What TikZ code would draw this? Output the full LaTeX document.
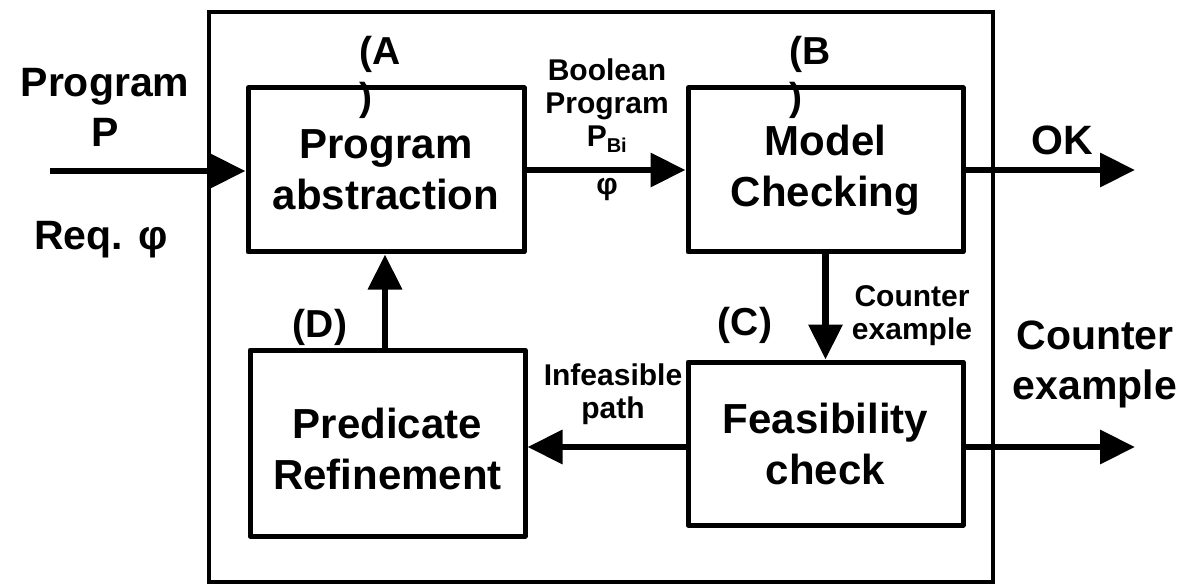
\documentclass[tikz,border=0pt]{standalone}
\usepackage{fontspec}
\setmainfont{Liberation Sans}
\usetikzlibrary{arrows.meta}
\tikzset{
  stage/.style={draw, line width=5pt, line join=round, inner sep=0pt,
    align=center, font=\fontsize{42}{51}\selectfont\bfseries},
  stagetext/.style={inner sep=0pt, align=center, font=\fontsize{42}{51}\selectfont\bfseries},
  flow/.style={line width=6.5pt, -{Triangle[length=35pt,width=33pt]}},
  biglabel/.style={inner sep=0pt, align=center, font=\fontsize{41}{50}\selectfont\bfseries},
  smalllabel/.style={inner sep=0pt, align=center, font=\fontsize{30}{33}\selectfont\bfseries},
  tag/.style={inner sep=0pt, align=left, font=\fontsize{39}{46}\selectfont\bfseries},
}
\begin{document}
\begin{tikzpicture}[x=1pt,y=-1pt]
  \useasboundingbox (0,0) rectangle (1185,585);
  % enclosing frame of the verification loop
  \draw[line width=4pt] (209,12) rectangle (993,582);

  % the four stages
  \node[stage, minimum width=276pt, minimum height=164pt] (abs) at (386,170) {Program\\abstraction};
  \node[stage, minimum width=275pt, minimum height=164pt] (mc) at (825.5,170) {Model\\Checking};
  \node[stage, minimum width=275pt, minimum height=163pt] (feas) at (825.5,443.5) {Feasibility\\check};
  \node[stage, minimum width=275pt, minimum height=186pt] (ref) at (387.5,443) {};
  \node[stagetext] (reftext) at (387.5,449) {Predicate\\Refinement};

  % stage tags
  \node[tag, anchor=north west] (tA) at (359,36) {(A\\)};
  \node[tag, anchor=north west] (tB) at (789,36) {(B\\)};
  \node[tag] (tC) at (745,325) {(C)};
  \node[tag] (tD) at (320,327) {(D)};

  % inputs and outputs
  \coordinate (in) at (50,171);
  \coordinate (ok) at (1135,170);
  \coordinate (cex) at (1135,447);
  \node[biglabel] (prog) at (105,107) {Program\\P};
  \node[biglabel] (req) at (101,240) {Req. φ};
  \node[biglabel] (oklbl) at (1062,140) {OK};
  \node[biglabel] (cexlbl) at (1095,364) {Counter\\example};

  % connectors
  \draw[flow] (in) -- (in -| abs.west);
  \draw[flow] (abs.east) -- (mc.west);
  \draw[flow] (mc.east) -- (ok);
  \draw[flow] (mc.south) -- (feas.north);
  \draw[flow] (feas.west |- cex) -- (cex -| ref.east);
  \draw[flow] (feas.east |- cex) -- (cex);
  \draw[flow] (ref.north -| 385,0) -- (abs.south -| 385,0);

  % connector labels
  \node[smalllabel] (bool) at (607,106) {Boolean\\Program\\P\textsubscript{\fontsize{20}{20}\selectfont Bi}};
  \node[smalllabel] (phi) at (607,190) {φ};
  \node[smalllabel] (cexin) at (912,316) {Counter\\example};
  \node[smalllabel] (infeas) at (613,394) {Infeasible\\path};
\end{tikzpicture}
\end{document}
